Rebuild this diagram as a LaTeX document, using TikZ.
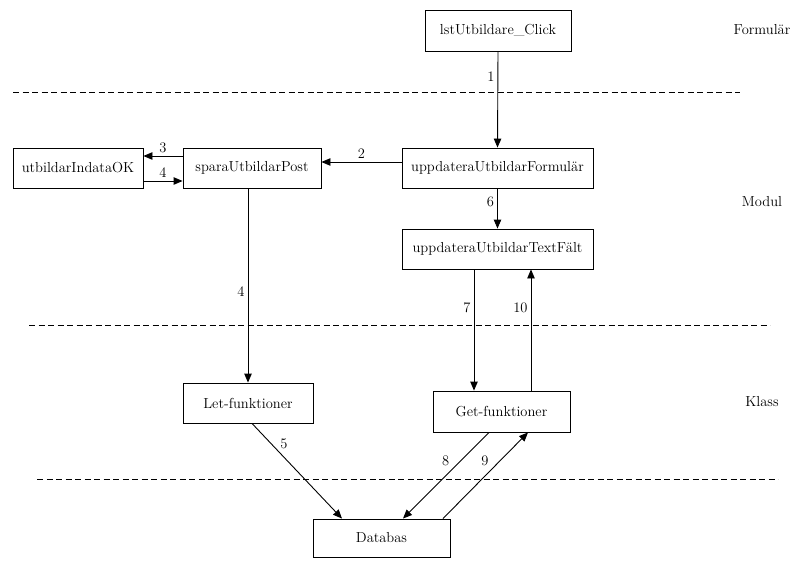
\documentclass[tikz,border=0pt]{standalone}
\usepackage{fontspec}
\usetikzlibrary{arrows.meta}

\begin{document}
\begin{tikzpicture}[x=1pt,y=-1pt, font=\fontsize{14.5}{17}\selectfont,
  box/.style={draw, line width=0.9pt, minimum height=40pt, inner sep=0pt},
  pil/.style={-{Triangle[length=9pt,width=7.5pt]}, line width=0.9pt},
  lbl/.style={inner sep=3pt},
  skikt/.style={dash pattern=on 6pt off 3.5pt, line width=0.9pt}]
\useasboundingbox (0,0) rectangle (793,560);

\foreach \ya\xa\xb in {92/13/740, 325/29/770, 479/37/778}{
\draw[skikt] (\xa,\ya) -- (\xb,\ya);
}
\foreach \n\txt\y in {lagForm/Formulär/30, lagModul/Modul/202, lagKlass/Klass/402}{
\node (\n) at (762,\y) {\txt};
}

\node[box, minimum width=146pt, minimum height=41pt] (lstclick) at (498,30.5) {lstUtbildare\_Click};
\node[box, minimum width=130pt] (indataok) at (78,168) {utbildarIndataOK};
\node[box, minimum width=138pt] (spara) at (252,168) {sparaUtbildarPost};
\node[box, minimum width=191pt] (uppdform) at (497.5,168) {uppdateraUtbildarFormulär};
\node[box, minimum width=191pt] (textfalt) at (497.5,249) {uppdateraUtbildarTextFält};
\node[box, minimum width=130pt] (letfunk) at (248,403) {Let-funktioner};
\node[box, minimum width=137pt, minimum height=41pt] (getfunk) at (501.5,411.5) {Get-funktioner};
\node[box, minimum width=137pt, minimum height=38pt] (databas) at (381.5,538) {Databas};

\draw[pil] (lstclick.south) -- node[lbl, left, pos=0.26]{1} (uppdform.north);
\draw[pil] ([yshift=6pt]uppdform.west) -- node[lbl, above]{2} ([yshift=6pt]spara.east);
\draw[pil] ([yshift=12pt]spara.west) -- node[lbl, above]{3} ([yshift=12pt]indataok.east);
\draw[pil] ([yshift=-13pt]indataok.east) -- node[lbl, above]{4} ([yshift=-13pt]spara.west);
\draw[pil] (spara.south -| letfunk.north) -- node[lbl, left, pos=0.53]{4} (letfunk.north);
\draw[pil] (uppdform.south) -- node[lbl, left, pos=0.34]{6} (textfalt.north);
\draw[pil] ([xshift=-23.5pt]textfalt.south) -- node[lbl, left, pos=0.32]{7} ([xshift=-27.5pt]getfunk.north);
\draw[pil] ([xshift=29.5pt]getfunk.north) -- node[lbl, left, pos=0.68]{10} ([xshift=33.5pt]textfalt.south);
\draw[pil] ([xshift=4pt]letfunk.south) -- node[lbl, right=6pt, pos=0.21]{5} ([xshift=-39.5pt]databas.north);
\draw[pil] ([xshift=-12.5pt]getfunk.south) -- node[lbl, left=8pt, pos=0.33]{8} ([xshift=21.5pt]databas.north);
\draw[pil] ([xshift=61.5pt]databas.north) -- node[lbl, left=8pt, pos=0.67]{9} ([xshift=26.5pt]getfunk.south);
\end{tikzpicture}
\end{document}
